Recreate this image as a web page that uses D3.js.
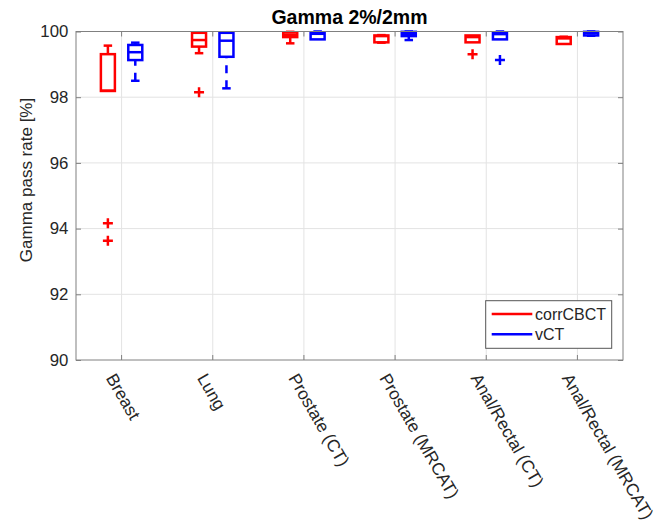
<!DOCTYPE html>
<html>
<head>
<meta charset="utf-8">
<script src="https://cdn.jsdelivr.net/npm/d3@7"></script>
<style>
  body { margin: 0; background: #fff; }
  svg { display: block; font-family: "Liberation Sans", Arial, sans-serif; }
</style>
</head>
<body>
<svg id="chart" width="664" height="526"></svg>
<script>
// categories and series
var categories = ["Breast", "Lung", "Prostate (CT)", "Prostate (MRCAT)", "Anal/Rectal (CT)", "Anal/Rectal (MRCAT)"];
var seriesNames = ["corrCBCT", "vCT"];
var yTicks = [90, 92, 94, 96, 98, 100];

// corrCBCT box stats
var corrLow    = [98.19, 99.34, 99.64, 99.66, 99.67, 99.62];
var corrQ1     = [98.19, 99.54, 99.83, 99.67, 99.67, 99.62];
var corrMedian = [98.20, 99.74, 99.90, 99.86, 99.83, 99.79];
var corrQ3     = [99.31, 99.96, 99.97, 99.88, 99.88, 99.83];
var corrHigh   = [99.57, 99.96, 99.99, 99.89, 99.88, 99.84];
var corrOutliers = [[94.16, 93.63], [98.15], [], [], [99.31], []];

// vCT box stats
var vctLow    = [98.50, 98.27, 99.76, 99.74, 99.76, 99.87];
var vctQ1     = [99.13, 99.23, 99.76, 99.86, 99.76, 99.88];
var vctMedian = [99.37, 99.72, 99.93, 99.93, 99.92, 99.95];
var vctQ3     = [99.59, 99.96, 99.95, 99.99, 99.95, 99.99];
var vctHigh   = [99.66, 99.96, 100.0, 100.0, 100.0, 100.0];
var vctOutliers = [[], [], [], [], [99.13], []];

var colors = { corrCBCT: "#ff0000", vCT: "#0000ff" };

function buildRows(name, low, q1, med, q3, high, outl) {
    return categories.map(function (c, i) {
        return { series: name, cat: c, low: low[i], q1: q1[i], med: med[i], q3: q3[i], high: high[i], out: outl[i] };
    });
}
var rows = buildRows("corrCBCT", corrLow, corrQ1, corrMedian, corrQ3, corrHigh, corrOutliers)
    .concat(buildRows("vCT", vctLow, vctQ1, vctMedian, vctQ3, vctHigh, vctOutliers));

var svg = d3.select("#chart");
var margin = { top: 31.5, left: 76, bottom: 166, right: 41 };
var width = 664, height = 526;

var x = d3.scaleBand().domain(categories).range([margin.left, width - margin.right]).padding(0);
var bw = x.bandwidth();
var sub = d3.scaleBand().domain(seriesNames).range([bw / 2 - 27.4, bw / 2 + 27.4]).padding(0);
var y = d3.scaleLinear().domain([90, 100]).range([height - margin.bottom, margin.top]);

var boxW = 14, capW = 8.5, lw = 2.5;

// grid
var grid = svg.append("g").attr("stroke", "#e3e3e3").attr("stroke-width", 1);
grid.selectAll("line.h").data(yTicks.slice(1, -1)).enter().append("line")
    .attr("x1", margin.left).attr("x2", width - margin.right)
    .attr("y1", function (d) { return y(d); }).attr("y2", function (d) { return y(d); });
grid.selectAll("line.v").data(categories).enter().append("line")
    .attr("x1", function (d) { return x(d) + bw / 2; }).attr("x2", function (d) { return x(d) + bw / 2; })
    .attr("y1", margin.top).attr("y2", height - margin.bottom);

// boxes
var g = svg.append("g");
var box = g.selectAll("g.box").data(rows).enter().append("g")
    .attr("transform", function (d) { return "translate(" + (x(d.cat) + sub(d.series) + sub.bandwidth() / 2) + ",0)"; })
    .attr("stroke", function (d) { return colors[d.series]; })
    .attr("stroke-width", lw).attr("fill", "none");

// whiskers (dashed, drawn from the cap towards the box)
box.append("line").attr("x1", 0).attr("x2", 0)
    .attr("y1", function (d) { return y(d.high); }).attr("y2", function (d) { return y(d.q3); })
    .attr("stroke-dasharray", "8,7");
box.append("line").attr("x1", 0).attr("x2", 0)
    .attr("y1", function (d) { return y(d.low); }).attr("y2", function (d) { return y(d.q1); })
    .attr("stroke-dasharray", "8,7");
box.filter(function (d) { return d.high > d.q3; }).append("line")
    .attr("x1", -capW / 2).attr("x2", capW / 2)
    .attr("y1", function (d) { return y(d.high); }).attr("y2", function (d) { return y(d.high); });
box.filter(function (d) { return d.low < d.q1; }).append("line")
    .attr("x1", -capW / 2).attr("x2", capW / 2)
    .attr("y1", function (d) { return y(d.low); }).attr("y2", function (d) { return y(d.low); });

box.append("rect")
    .attr("x", -boxW / 2).attr("width", boxW)
    .attr("y", function (d) { return y(d.q3); })
    .attr("height", function (d) { return Math.max(0.5, y(d.q1) - y(d.q3)); });
box.append("line")
    .attr("x1", -boxW / 2).attr("x2", boxW / 2)
    .attr("y1", function (d) { return y(d.med); }).attr("y2", function (d) { return y(d.med); });

// outliers
box.selectAll("path.out").data(function (d) { return d.out; }).enter().append("path")
    .attr("d", "M-5,0H5M0,-5V5")
    .attr("transform", function (v) { return "translate(0," + y(v) + ")"; });

// axes
var axisColor = "#808080", textColor = "#262626";
function styleAxis(sel) {
    sel.select(".domain").remove();
    sel.selectAll(".tick line").attr("stroke", axisColor);
    sel.selectAll("text").attr("fill", textColor).style("font-size", "16.8px");
}
svg.append("g").attr("transform", "translate(" + margin.left + ",0)")
    .call(d3.axisLeft(y).tickValues(yTicks).tickSize(-5).tickPadding(7.7))
    .call(styleAxis);
svg.append("g").attr("transform", "translate(" + (width - margin.right) + ",0)")
    .call(d3.axisRight(y).tickValues(yTicks).tickSize(-5).tickFormat(""))
    .call(styleAxis);
svg.append("g").attr("transform", "translate(0," + margin.top + ")")
    .call(d3.axisTop(x).tickSize(-5).tickFormat(""))
    .call(styleAxis);
var xAxis = svg.append("g").attr("transform", "translate(0," + (height - margin.bottom) + ")")
    .call(d3.axisBottom(x).tickSize(-5))
    .call(styleAxis);
xAxis.selectAll("text")
    .attr("x", 0).attr("y", 0).attr("dy", 0)
    .attr("text-anchor", "start")
    .style("font-size", "17.3px")
    .attr("transform", "translate(-16,18) rotate(60)");

svg.append("rect")
    .attr("x", margin.left).attr("y", margin.top)
    .attr("width", width - margin.right - margin.left)
    .attr("height", height - margin.bottom - margin.top)
    .attr("fill", "none").attr("stroke", axisColor).attr("stroke-width", 1);

// labels
svg.append("text")
    .attr("x", (margin.left + width - margin.right) / 2).attr("y", 24)
    .attr("text-anchor", "middle").style("font-size", "19.5px").style("font-weight", "bold")
    .text("Gamma 2%/2mm");

svg.append("text")
    .attr("transform", "translate(31.5,180) rotate(-90)")
    .attr("text-anchor", "middle").attr("fill", textColor).style("font-size", "17px")
    .text("Gamma pass rate [%]");

// legend
var leg = svg.append("g");
leg.append("rect").attr("x", 485.7).attr("y", 300.7).attr("width", 126).attr("height", 47.6)
    .attr("fill", "#fff").attr("stroke", "#555").attr("stroke-width", 1);
seriesNames.forEach(function (s, i) {
    var ly = 314 + i * 20.3;
    leg.append("line").attr("x1", 491.7).attr("x2", 532.3).attr("y1", ly).attr("y2", ly)
        .attr("stroke", colors[s]).attr("stroke-width", lw);
    leg.append("text").attr("x", 535).attr("y", ly + 6).attr("fill", textColor)
        .style("font-size", "16px").text(s);
});
</script>
</body>
</html>
